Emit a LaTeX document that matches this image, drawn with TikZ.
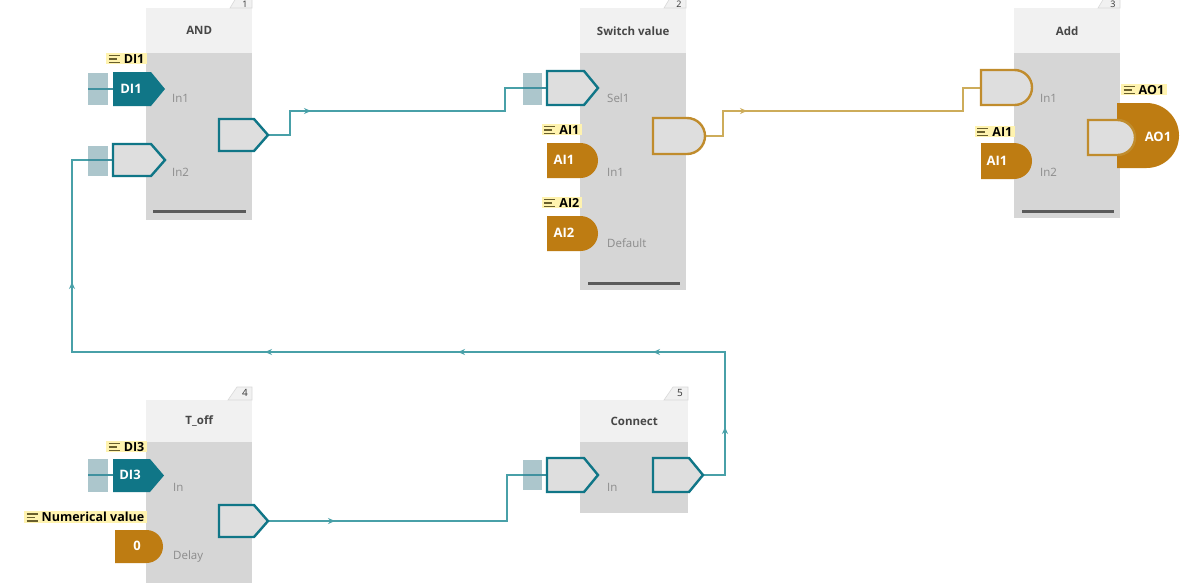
\documentclass[tikz,border=0pt]{standalone}
\usepackage{fontspec}
\setmainfont{Open Sans}
\usetikzlibrary{decorations.markings,arrows.meta}
\definecolor{teald}{RGB}{16,118,135}
\definecolor{wireteal}{RGB}{72,160,168}
\definecolor{goldf}{RGB}{190,124,18}
\definecolor{golds}{RGB}{192,140,45}
\definecolor{goldw}{RGB}{205,172,90}
\definecolor{stub}{RGB}{172,198,204}
\definecolor{tagy}{RGB}{255,243,175}
\definecolor{bodyg}{RGB}{214,214,214}
\definecolor{headg}{RGB}{241,241,241}
\definecolor{portin}{RGB}{222,222,222}
\definecolor{labg}{RGB}{140,140,140}
\definecolor{barg}{RGB}{90,90,90}
\definecolor{icong}{RGB}{105,95,45}
\newcommand{\pentshape}[5]{\path[#5] (#1,#2) -- ({#3-14},#2) -- (#3,{(#2+#4)/2}) -- ({#3-14},#4) -- (#1,#4) -- cycle;}
\newcommand{\dshape}[6]{\path[#6] (#1,#2) -- ({#3-#5},#2) arc[start angle=90,end angle=-90,radius=#5pt] -- (#1,#4) -- cycle;}
\newcommand{\tagicon}{\textcolor{icong}{\rlap{\rule[0pt]{11pt}{1.3pt}}\rlap{\rule[3.6pt]{8pt}{1.3pt}}\rule[7.2pt]{11pt}{1.3pt}}\hspace{4pt}}
\begin{document}
\begin{tikzpicture}[x=1pt,y=-1pt,
 body/.style={fill=bodyg, draw=none, minimum width=106pt, inner sep=0pt, anchor=north west},
 head/.style={fill=headg, draw=none, minimum width=106pt, inner sep=0pt, anchor=north west, font=\fontsize{11.5}{11.5}\selectfont\bfseries, text=black!72},
 bar/.style={draw=barg, line width=3pt},
 tabst/.style={fill=headg, draw=black!15, line width=0.6pt},
 tabnum/.style={font=\fontsize{9}{9}\selectfont, text=black!80, inner sep=0pt},
 pout/.style={draw=teald, fill=portin, line width=2.4pt},
 pfill/.style={fill=teald},
 gout/.style={draw=golds, fill=portin, line width=2.4pt},
 gfill/.style={fill=goldf},
 stubsq/.style={fill=stub},
 stubln/.style={draw=teald!80, line width=1.5pt},
 wire/.style={draw=wireteal, line width=1.8pt},
 gwire/.style={draw=goldw, line width=1.8pt},
 tagst/.style={fill=tagy, inner xsep=2.5pt, inner ysep=1pt, font=\fontsize{12.5}{12.5}\selectfont\bfseries, text=black},
 plabel/.style={text=labg, font=\fontsize{11.5}{11.5}\selectfont, anchor=west, inner sep=0pt},
 ptext/.style={text=white, font=\fontsize{13}{13}\selectfont\bfseries, inner sep=0pt},
 mk/.style={postaction={decorate,decoration={markings,mark=at position #1 with {\arrow{Stealth[length=7pt,width=6pt]}}}}}
]
\useasboundingbox (0,0) rectangle (1190,582);
\fill[white] (0,0) rectangle (1190,582);

% ---------- blocks ----------
\node[body, minimum height=212pt] (b1) at (146,8) {};
\node[head, minimum height=45pt] (h1) at (146,8) {AND};
\draw[bar] (153,211) -- (246,211);
\path[tabst] (230,8) -- (236,-2) -- (252,-2) -- (252,8) -- cycle;
\node[tabnum] (n1) at (245,4.5) {1};

\node[body, minimum height=282pt] (b2) at (580,8) {};
\node[head, minimum height=45pt] (h2) at (580,8) {Switch value};
\draw[bar] (588,283) -- (680,283);
\path[tabst] (664,8) -- (670,-2) -- (686,-2) -- (686,8) -- cycle;
\node[tabnum] (n2) at (679,4.5) {2};

\node[body, minimum height=210pt] (b3) at (1014,8) {};
\node[head, minimum height=45pt] (h3) at (1014,8) {Add};
\draw[bar] (1022,211) -- (1114,211);
\path[tabst] (1098,8) -- (1104,-2) -- (1120,-2) -- (1120,8) -- cycle;
\node[tabnum] (n3) at (1113,4.5) {3};

\node[body, minimum height=200pt] (b4) at (146,400) {};
\node[head, minimum height=42pt] (h4) at (146,400) {T\_off};
\path[tabst] (228,400) -- (237,387) -- (252,387) -- (252,400) -- cycle;
\node[tabnum, font=\fontsize{10}{10}\selectfont] (n4) at (245,393) {4};

\node[body, minimum height=113pt, minimum width=108pt] (b5) at (580,400) {};
\node[head, minimum height=42pt, minimum width=108pt] (h5) at (580,400) {Connect};
\path[tabst] (664,400) -- (673,387) -- (688,387) -- (688,400) -- cycle;
\node[tabnum, font=\fontsize{10}{10}\selectfont] (n5) at (680,393) {5};

% ---------- named connector ends ----------
\coordinate (o1) at (268,135);
\coordinate (s2) at (523,88);
\coordinate (o2) at (705,136);
\coordinate (i31) at (981,88);
\coordinate (o4) at (268,521);
\coordinate (i5) at (523,475);
\coordinate (o5) at (703,475);
\coordinate (i12) at (88,160);

% ---------- connectors ----------
\draw[wire, mk=67pt] (o1) -- (290,135) -- (290,111) -- (505,111) -- (505,88) -- (s2);
\draw[gwire, mk=67pt] (o2) -- (723,136) -- (723,111) -- (963,111) -- (963,88) -- (i31);
\draw[wire, mk=67pt] (o4) -- (507,521) -- (507,475) -- (i5);
\draw[wire, postaction={decorate,decoration={markings,
   mark=at position 70pt with {\arrow{Stealth[length=7pt,width=6pt]}},
   mark=at position 217pt with {\arrow{Stealth[length=7pt,width=6pt]}},
   mark=at position 412pt with {\arrow{Stealth[length=7pt,width=6pt]}},
   mark=at position 605pt with {\arrow{Stealth[length=7pt,width=6pt]}},
   mark=at position 868pt with {\arrow{Stealth[length=7pt,width=6pt]}}}}]
   (o5) -- (725,475) -- (725,352) -- (72,352) -- (72,160) -- (i12);

% ---------- block 1 ports ----------
\fill[stubsq] (88,73) rectangle (108,105);
\draw[stubln] (88,89) -- (113,89);
\pentshape{113}{72}{165}{106}{pfill}
\node[ptext] (d1) at (131,89) {DI1};
\node[plabel] (l11) at (172,98) {In1};
\node[tagst, anchor=north east] (tg1) at (147,53) {\tagicon DI1};

\fill[stubsq] (88,146) rectangle (108,176);
\draw[stubln] (88,160) -- (113,160);
\pentshape{113}{144}{165}{176}{pout}
\node[plabel] (l12) at (172,172) {In2};

\pentshape{219}{119}{268}{151}{pout}

% ---------- block 2 ports ----------
\fill[stubsq] (523,73) rectangle (542,105);
\draw[stubln] (523,88) -- (547,88);
\pentshape{547}{71}{598}{105}{pout}
\node[plabel] (l21) at (607,98) {Sel1};

\node[tagst, anchor=north east] (tg2) at (582,124) {\tagicon AI1};
\dshape{547}{143}{598}{178}{17.5}{gfill}
\node[ptext] (a21) at (564,160) {AI1};
\node[plabel] (l22) at (607,172) {In1};

\node[tagst, anchor=north east] (tg3) at (582,197) {\tagicon AI2};
\dshape{547}{216}{598}{251}{17.5}{gfill}
\node[ptext] (a22) at (564,233) {AI2};
\node[plabel] (l23) at (607,243) {Default};

\dshape{653}{118}{705}{154}{18}{gout}

% ---------- block 3 ports ----------
\dshape{981}{70}{1032}{105}{17.5}{gout}
\node[plabel] (l31) at (1040,98) {In1};

\node[tagst, anchor=north east] (tg4) at (1015,126) {\tagicon AI1};
\dshape{981}{143}{1032}{179}{18}{gfill}
\node[ptext] (a31) at (997,161) {AI1};
\node[plabel] (l32) at (1040,172) {In2};

\dshape{1117}{103}{1179}{168}{32.5}{gfill}
\dshape{1088}{120}{1135}{155}{17.5}{gout}
\node[ptext] (a32) at (1158,137) {AO1};
\node[tagst, anchor=north west] (tg5) at (1121,84) {\tagicon AO1};

% ---------- block 4 ports ----------
\node[tagst, anchor=north east] (tg6) at (147,441) {\tagicon DI3};
\fill[stubsq] (88,459) rectangle (108,492);
\draw[stubln] (88,475) -- (113,475);
\pentshape{113}{459}{164}{492}{pfill}
\node[ptext] (d4) at (130,475) {DI3};
\node[plabel] (l41) at (173,487) {In};

\node[tagst, anchor=north east] (tg7) at (147,511) {\tagicon Numerical value};
\dshape{115}{530}{163}{563}{16.5}{gfill}
\node[ptext] (z4) at (137,546) {0};
\node[plabel] (l42) at (173,556) {Delay};

\pentshape{219}{505}{268}{537}{pout}

% ---------- block 5 ports ----------
\fill[stubsq] (523,460) rectangle (542,490);
\draw[stubln] (523,475) -- (547,475);
\pentshape{547}{458}{598}{492}{pout}
\node[plabel] (l51) at (607,487) {In};

\pentshape{653}{458}{703}{492}{pout}
\end{tikzpicture}
\end{document}
